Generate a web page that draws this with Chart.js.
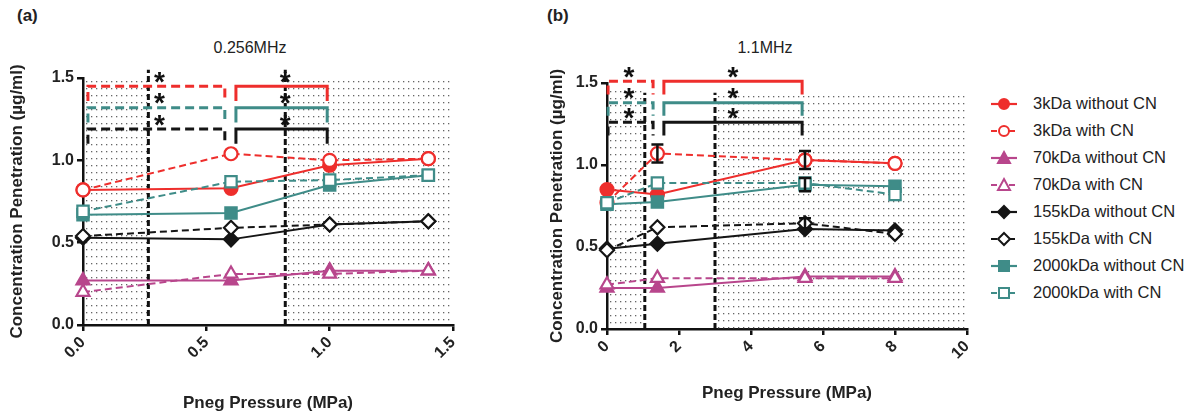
<!DOCTYPE html>
<html><head><meta charset="utf-8">
<script src="https://cdn.jsdelivr.net/npm/chart.js@4.4.1/dist/chart.umd.min.js"></script>
<style>
html,body{margin:0;padding:0;background:#fff;}
body{width:1193px;height:418px;position:relative;overflow:hidden;font-family:"Liberation Sans",Arial,sans-serif;color:#222;}
.lbl{position:absolute;font-weight:bold;font-size:17px;line-height:17px;}
.ttl{position:absolute;font-size:16px;line-height:16px;transform:translateX(-50%);white-space:nowrap;}
#cA{position:absolute;left:0;top:0;}
#cB{position:absolute;left:540px;top:0;}
#legend{position:absolute;left:990px;top:90px;font-size:16.5px;color:#222;}
.row{height:27px;display:flex;align-items:center;white-space:nowrap;}
.row svg{margin-right:15px;}
</style></head>
<body>
<div class="lbl" style="left:17px;top:7px">(a)</div>
<div class="ttl" style="left:250px;top:40px">0.256MHz</div>
<div class="lbl" style="left:547px;top:7px">(b)</div>
<div class="ttl" style="left:765px;top:40px">1.1MHz</div>
<canvas id="cA" width="490" height="418"></canvas>
<canvas id="cB" width="445" height="418"></canvas>
<div id="legend"></div>
<script>
// ---------- DATA ----------
const seriesLabels = ['3kDa without CN','3kDa with CN','70kDa without CN','70kDa with CN','155kDa without CN','155kDa with CN','2000kDa without CN','2000kDa with CN'];

// Panel (a) 0.256MHz
const aPressure = [0, 0.6, 1.0, 1.4];
const a3kWithout   = [0.82, 0.83, 0.97, 1.01];
const a3kWith      = [0.82, 1.04, 1.00, 1.01];
const a70kWithout  = [0.27, 0.27, 0.33, 0.33];
const a70kWith     = [0.20, 0.31, 0.31, 0.33];
const a155kWithout = [0.53, 0.52, 0.61, 0.63];
const a155kWith    = [0.54, 0.59, 0.61, 0.63];
const a2000kWithout= [0.67, 0.68, 0.85, 0.91];
const a2000kWith   = [0.69, 0.87, 0.88, 0.91];
const aThresholds  = [0.265, 0.82];
const aShadeRanges = [[0, 0.265], [0.82, 1.5]];
const aBracketY    = [1.45, 1.32, 1.19];
const aBracketSpans= [[0.02, 0.575], [0.62, 0.99]];
const aStarX       = [0.31, 0.82];
const aXTicks      = [0, 0.5, 1.0, 1.5];

// Panel (b) 1.1MHz
const bPressure = [0, 1.4, 5.5, 8];
const b3kWithout   = [0.85, 0.82, 1.03, 1.01];
const b3kWith      = [0.77, 1.07, 1.03, 1.01];
const b70kWithout  = [0.25, 0.25, 0.32, 0.32];
const b70kWith     = [0.27, 0.31, 0.31, 0.31];
const b155kWithout = [0.49, 0.52, 0.61, 0.60];
const b155kWith    = [0.48, 0.62, 0.645, 0.58];
const b2000kWithout= [0.76, 0.775, 0.88, 0.87];
const b2000kWith   = [0.77, 0.89, 0.89, 0.82];
const b3kWithoutErr   = [0, 0, 0.055, 0];
const b3kWithErr      = [0, 0.055, 0, 0];
const b2000kWithoutErr= [0, 0, 0.04, 0];
const b155kWithErr    = [0, 0, 0.03, 0];
const bThresholds  = [1.05, 3.0];
const bShadeRanges = [[0, 1.05, 1.47], [3.0, 10, 1.44]];
const bBracketY    = [1.51, 1.38, 1.26];
const bBracketSpans= [[0.03, 1.28], [1.58, 5.42]];
const bStarX       = [0.61, 3.5];
const bXTicks      = [0, 2, 4, 6, 8, 10];
const yTicks       = [0, 0.5, 1.0, 1.5];

// ---------- STYLE ----------
const RED='#ee2e2c', MAG='#b8468c', BLK='#151515', TEAL='#3f8c88';
const styles = [
  {c:RED, s:'circle', r:6.5, open:false, dash:false},
  {c:RED, s:'circle', r:6.5, open:true, dash:true},
  {c:MAG, s:'triangle', r:7.5, open:false, dash:false},
  {c:MAG, s:'triangle', r:7.5, open:true, dash:true},
  {c:BLK, s:'rectRot', r:7, open:false, dash:false},
  {c:BLK, s:'rectRot', r:7, open:true, dash:true},
  {c:TEAL, s:'rect', r:8, open:false, dash:false},
  {c:TEAL, s:'rect', r:8, open:true, dash:true}
];
const bracketColors = [RED, TEAL, BLK];

function seriesDS(i, xs, ys, errs){
  const st = styles[i];
  return {
    label: seriesLabels[i],
    data: xs.map((x,k)=>({x, y: ys[k]})),
    showLine:true, borderColor: st.c, backgroundColor: st.c,
    borderWidth: 2, borderDash: st.dash ? [7,4] : [],
    pointStyle: st.s, pointRadius: st.r, pointHoverRadius: st.r,
    pointBorderWidth: 2.2, pointBorderColor: st.c,
    pointBackgroundColor: st.open ? '#fff' : st.c,
    errors: errs || null, clip:false, order: 10 - i
  };
}
function bracketDS(spans, ys, drop){
  const out=[];
  ys.forEach((yv,k)=>{
    spans.forEach((sp,j)=>{
      out.push({
        data:[{x:sp[0],y:yv-drop},{x:sp[0],y:yv},{x:sp[1],y:yv},{x:sp[1],y:yv-drop}],
        showLine:true, borderColor: bracketColors[k], borderWidth:3,
        borderDash: j===0 ? [9,5] : [], pointRadius:0, clip:false, order:20,
        borderCapStyle:'butt'
      });
    });
  });
  return out;
}
function thresholdDS(xs, top){
  return xs.map(x=>({
    data:[{x, y:0},{x, y:top}], showLine:true, borderColor:'#111', borderWidth:3,
    borderDash:[6,3], pointRadius:0, clip:false, order:30
  }));
}

const dotPlugin = {
  id:'dots',
  beforeDatasetsDraw(chart, args, opts){
    const {ctx, scales:{x,y}} = chart;
    ctx.save(); ctx.fillStyle = '#666';
    for (const r of opts.regions) {
      const x0 = x.getPixelForValue(r[0]), x1 = x.getPixelForValue(r[1]);
      const y0 = y.getPixelForValue(r[2] !== undefined ? r[2] : y.max), y1 = y.getPixelForValue(0);
      for (let py = y0 + 3; py < y1 - 2; py += 7)
        for (let px = x0 + 3; px < x1 - 1; px += 5)
          ctx.fillRect(Math.round(px), Math.round(py), 1.3, 1.3);
    }
    ctx.restore();
  }
};
const extraPlugin = {
  id:'extras',
  afterDatasetsDraw(chart, args, opts){
    const {ctx, scales:{x,y}} = chart;
    ctx.save();
    chart.data.datasets.forEach(ds=>{
      if(!ds.errors) return;
      ds.data.forEach((p,k)=>{
        const e = ds.errors[k]; if(!e) return;
        const px = x.getPixelForValue(p.x), t = y.getPixelForValue(p.y+e), b = y.getPixelForValue(p.y-e);
        ctx.strokeStyle='#111'; ctx.lineWidth=2.5; ctx.setLineDash([]);
        ctx.beginPath(); ctx.moveTo(px,t); ctx.lineTo(px,b);
        ctx.moveTo(px-6,t); ctx.lineTo(px+6,t); ctx.moveTo(px-6,b); ctx.lineTo(px+6,b); ctx.stroke();
      });
    });
    ctx.fillStyle='#111'; ctx.font='bold 28px "Liberation Sans", Arial, sans-serif';
    ctx.textAlign='center'; ctx.textBaseline='alphabetic';
    opts.starX.forEach(sx=>{
      opts.starY.forEach(sy=>{
        ctx.fillText('*', x.getPixelForValue(sx), y.getPixelForValue(sy) + 13);
      });
    });
    ctx.restore();
  }
};

function makeOptions(cfg){
  const tickFont = {family:'"Liberation Sans", Arial, sans-serif', size:16, weight:'bold'};
  const titleFont = {family:'"Liberation Sans", Arial, sans-serif', size:17, weight:'bold'};
  return {
    responsive:false, animation:false, devicePixelRatio:1,
    layout:{padding:{left:0, top:cfg.top, right:cfg.right, bottom:0}},
    plugins:{legend:{display:false}, tooltip:{enabled:false},
      dots:{regions:cfg.shade}, extras:{starX:cfg.starX, starY:cfg.starY}},
    scales:{
      x:{type:'linear', min:cfg.xTicks[0], max:cfg.xTicks[cfg.xTicks.length-1],
        afterBuildTicks: s=>{ s.ticks = cfg.xTicks.map(v=>({value:v})); },
        ticks:{font:tickFont, color:'#222', minRotation:45, maxRotation:45, padding:2,
          callback: v=>cfg.xFmt(v)},
        grid:{display:true, drawOnChartArea:false, drawTicks:true, tickLength:6, color:'#111', lineWidth:2.5},
        border:{display:true, color:'#111', width:2.5},
        title:{display:true, text:'Pneg Pressure (MPa)', font:titleFont, color:'#222', padding:{top:4,bottom:cfg.xTitlePad}},
        afterFit: s=>{ s.height = cfg.xHeight; }
      },
      y:{type:'linear', min:0, max:1.5,
        afterBuildTicks: s=>{ s.ticks = yTicks.map(v=>({value:v})); },
        ticks:{font:tickFont, color:'#222', padding:3, callback: v=>v.toFixed(1)},
        grid:{display:true, drawOnChartArea:false, drawTicks:true, tickLength:6, color:'#111', lineWidth:2.5},
        border:{display:true, color:'#111', width:2.5},
        title:{display:true, text:'Concentration Penetration (µg/ml)', font:titleFont, color:'#222', padding:{top:cfg.yTitlePad,bottom:0}},
        afterFit: s=>{ s.width = cfg.yWidth; }
      }
    }
  };
}

// ---------- Chart A ----------
const aSeries = [a3kWithout,a3kWith,a70kWithout,a70kWith,a155kWithout,a155kWith,a2000kWithout,a2000kWith];
new Chart(document.getElementById('cA'), {
  type:'scatter',
  data:{datasets:[
    ...aSeries.map((ys,i)=>seriesDS(i, aPressure, ys)),
    ...bracketDS(aBracketSpans, aBracketY, 0.09),
    ...thresholdDS(aThresholds, 1.55)
  ]},
  options: makeOptions({top:78, right:37, yWidth:83, xHeight:93, xTitlePad:4, yTitlePad:7,
    xTicks:aXTicks, xFmt:v=>v.toFixed(1), shade:aShadeRanges,
    starX:aStarX, starY:aBracketY.map(v=>v+0.05)}),
  plugins:[dotPlugin, extraPlugin]
});

// ---------- Chart B ----------
const bSeries = [b3kWithout,b3kWith,b70kWithout,b70kWith,b155kWithout,b155kWith,b2000kWithout,b2000kWith];
const bErrs = [b3kWithoutErr,b3kWithErr,null,null,null,b155kWithErr,b2000kWithoutErr,null];
new Chart(document.getElementById('cB'), {
  type:'scatter',
  data:{datasets:[
    ...bSeries.map((ys,i)=>seriesDS(i, bPressure, ys, bErrs[i])),
    ...bracketDS(bBracketSpans, bBracketY, 0.08),
    ...thresholdDS(bThresholds, 1.44)
  ]},
  options: makeOptions({top:83, right:18, yWidth:67, xHeight:89, xTitlePad:14, yTitlePad:7,
    xTicks:bXTicks, xFmt:v=>String(v), shade:bShadeRanges,
    starX:bStarX, starY:bBracketY.map(v=>v+0.05)}),
  plugins:[dotPlugin, extraPlugin]
});

// ---------- Legend ----------
function markerSVG(st){
  const c = st.c, fill = st.open ? '#fff' : c;
  let m='';
  if(st.s==='circle') m=`<circle cx="14" cy="9" r="5" fill="${fill}" stroke="${c}" stroke-width="2"/>`;
  else if(st.s==='rect') m=`<rect x="9" y="4" width="10" height="10" fill="${fill}" stroke="${c}" stroke-width="2"/>`;
  else if(st.s==='triangle') m=`<polygon points="14,3 20,14 8,14" fill="${fill}" stroke="${c}" stroke-width="2"/>`;
  else m=`<polygon points="14,3 20,9 14,15 8,9" fill="${fill}" stroke="${c}" stroke-width="2"/>`;
  const dash = st.dash ? 'stroke-dasharray="6,3"' : '';
  return `<svg width="28" height="18" viewBox="0 0 28 18"><line x1="1" y1="9" x2="27" y2="9" stroke="${c}" stroke-width="2.2" ${dash}/>${m}</svg>`;
}
document.getElementById('legend').innerHTML = seriesLabels.map((l,i)=>
  `<div class="row">${markerSVG(styles[i])}<span>${l}</span></div>`).join('');
</script>
</body></html>
